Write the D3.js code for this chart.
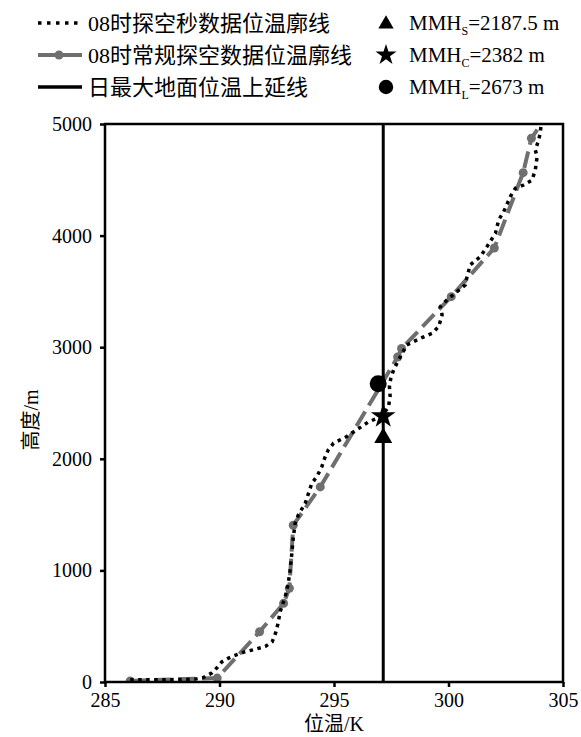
<!DOCTYPE html>
<html><head><meta charset="utf-8">
<script src="https://cdn.jsdelivr.net/npm/d3@7"></script>
<style>
body{margin:0;background:#fff}
svg{display:block}
svg text{font-family:"Liberation Serif","Times New Roman","DejaVu Serif","Noto Sans CJK SC",serif;fill:#000}
</style>
</head><body>
<script>
// ---- data ----
const secondT = [286.1,286.8,287.5,288.2,288.9,289.3,289.66,289.9,290.1,290.4,290.76,291.1,291.5,292.0,292.3,292.45,292.55,292.65,292.87,293.0,293.08,293.16,293.22,293.3,293.45,293.74,294.03,294.25,294.47,294.6,294.75,294.98,295.56,296.07,296.5,296.85,297.15,297.38,297.45,297.42,297.48,297.6,297.82,298.18,298.77,299.28,299.57,299.72,299.64,299.93,300.37,300.73,300.81,300.95,301.39,301.68,302.05,302.19,302.41,302.7,302.92,303.28,303.65,303.79,303.87,303.79,303.94,304.0,304.05];
const secondH = [20,20,20,22,25,40,80,130,180,215,245,270,290,318,360,440,520,630,765,880,1000,1155,1290,1420,1500,1600,1780,1840,1930,2010,2080,2140,2200,2270,2330,2360,2400,2465,2560,2650,2720,2795,2885,3020,3080,3124,3184,3289,3363,3423,3497,3557,3632,3737,3811,3901,4020,4140,4214,4349,4424,4453,4498,4588,4707,4767,4857,4916,5000];
const routineT = [286.1,289.9,291.75,292.8,293.05,293.22,294.4,297.78,297.95,300.12,302.0,303.26,303.62,304.05];
const routineH = [10,35,450,705,840,1405,1748,2912,2988,3453,3889,4564,4872,5000];
const surfaceT = 297.15;
const mmhNames = ["S","C","L"];
const mmhValues = [2187.5, 2382, 2673];
const mmhT = [297.15, 297.15, 296.93];
const mmhSymbols = ["triangle","star","circle"];
const xTicks = [285,290,295,300,305];
const yTicks = [0,1000,2000,3000,4000,5000];
const legendLabels = ["08时探空秒数据位温廓线","08时常规探空数据位温廓线","日最大地面位温上延线"];
const xTitle = "位温/K";
const yTitle = "高度/m";

// ---- layout ----
const W = 581, H = 737;
const L = 105, R = 563, T = 124, B = 682;
const gray = "#6f6f6f";

const svg = d3.select("body").append("svg").attr("width", W).attr("height", H);

const x = d3.scaleLinear().domain([285,305]).range([L,R]);
const y = d3.scaleLinear().domain([0,5000]).range([B,T]);

svg.append("defs").append("clipPath").attr("id","clip")
  .append("rect").attr("x",L).attr("y",T).attr("width",R-L).attr("height",B-T);

const plot = svg.append("g").attr("clip-path","url(#clip)");

const line = d3.line().x(d=>x(d[0])).y(d=>y(d[1]));
const routine = routineT.map((t,i)=>[t, routineH[i]]);
const second = secondT.map((t,i)=>[t, secondH[i]]);

plot.append("path").datum(routine).attr("d", line)
  .attr("fill","none").attr("stroke",gray).attr("stroke-width",4)
  .attr("stroke-dasharray","17,7");
plot.selectAll("circle.rt").data(routine.filter(d=>d[1]<5000)).join("circle")
  .attr("class","rt").attr("cx",d=>x(d[0])).attr("cy",d=>y(d[1])).attr("r",4.5).attr("fill",gray);

plot.append("path").datum(second).attr("d", line)
  .attr("fill","none").attr("stroke","#000").attr("stroke-width",3.5)
  .attr("stroke-dasharray","3.5,4.5");

// vertical line
svg.append("line").attr("x1",x(surfaceT)).attr("x2",x(surfaceT)).attr("y1",y(0)).attr("y2",y(5000))
  .attr("stroke","#000").attr("stroke-width",3);

// MMH markers
function drawSym(g, type, cx, cy, scale){
  if(type==="circle"){
    g.append("circle").attr("cx",cx).attr("cy",cy).attr("r",8.5*scale).attr("fill","#000");
  } else {
    const s = type==="triangle" ? d3.symbolTriangle : d3.symbolStar;
    const size = (type==="triangle" ? 140 : 190)*scale*scale;
    g.append("path").attr("d", d3.symbol().type(s).size(size)())
      .attr("transform",`translate(${cx},${cy})`).attr("fill","#000");
  }
}
mmhValues.forEach((v,i)=>drawSym(svg, mmhSymbols[i], x(mmhT[i]), y(v), 1));

// axes frame
svg.append("rect").attr("x",L).attr("y",T).attr("width",R-L).attr("height",B-T)
  .attr("fill","none").attr("stroke","#000").attr("stroke-width",2.5);

const xAxis = d3.axisBottom(x).tickValues(xTicks).tickSize(5).tickPadding(6).tickFormat(d3.format("d"));
const gx = svg.append("g").attr("transform",`translate(0,${B})`).call(xAxis);
const yAxis = d3.axisLeft(y).tickValues(yTicks).tickSize(5).tickPadding(8).tickFormat(d3.format("d"));
const gy = svg.append("g").attr("transform",`translate(${L},0)`).call(yAxis);
[gx,gy].forEach(g=>{
  g.attr("font-family",null).attr("font-size",null);
  g.select(".domain").remove();
  g.selectAll(".tick line").attr("stroke","#000").attr("stroke-width",2.5);
  g.selectAll(".tick text").attr("fill","#000").style("font-size","20px");
});

svg.append("text").attr("x",(L+R)/2).attr("y",731).attr("text-anchor","middle")
  .style("font-size","20px").text(xTitle);
svg.append("text").attr("transform","translate(38,420) rotate(-90)").attr("text-anchor","middle")
  .style("font-size","20px").style("fill","#000").text(yTitle);

// legend left
const rows = [23,55,87];
const lg = svg.append("g");
lg.append("line").attr("x1",38).attr("x2",82).attr("y1",rows[0]).attr("y2",rows[0])
  .attr("stroke","#000").attr("stroke-width",3.5).attr("stroke-dasharray","3.5,5.5");
lg.append("line").attr("x1",38).attr("x2",82).attr("y1",rows[1]).attr("y2",rows[1])
  .attr("stroke",gray).attr("stroke-width",4);
lg.append("circle").attr("cx",59).attr("cy",rows[1]).attr("r",4.5).attr("fill",gray);
lg.append("line").attr("x1",38).attr("x2",82).attr("y1",rows[2]).attr("y2",rows[2])
  .attr("stroke","#000").attr("stroke-width",3.5);
legendLabels.forEach((t,i)=>{
  lg.append("text").attr("x",88).attr("y",rows[i]+8).style("font-size","22px").text(t);
});

// legend right
mmhValues.forEach((v,i)=>{
  drawSym(lg, mmhSymbols[i], 386, rows[i]+ (mmhSymbols[i]==="triangle"?1:0), 0.85);
  const tx = lg.append("text").attr("x",409).attr("y",rows[i]+7).style("font-size","21px");
  tx.append("tspan").text("MMH");
  tx.append("tspan").attr("dy",5).style("font-size","12px").text(mmhNames[i]);
  tx.append("tspan").attr("dy",-5).text("=" + v + " m");
});
</script>
</body></html>
